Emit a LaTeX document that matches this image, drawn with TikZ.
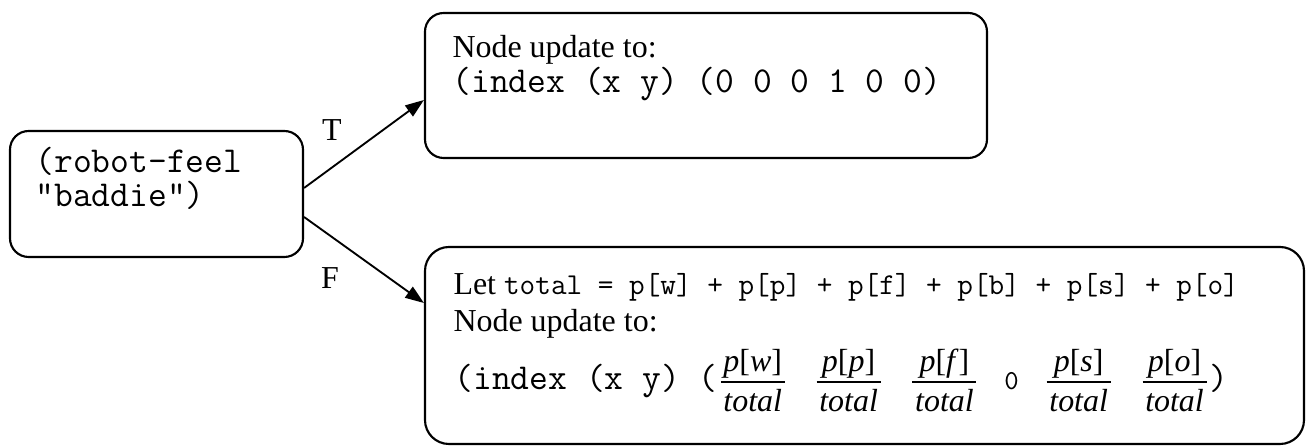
\documentclass[tikz,border=0pt]{standalone}
\usepackage{fontspec}
\setmainfont{Liberation Serif}
\usetikzlibrary{arrows.meta, positioning, calc, fit}

% typewriter pieces, sized to the width of the serif text
\newcommand{\cw}[1]{{\fontsize{13.7pt}{16pt}\selectfont\ttfamily #1}}
% one share of the total, set as a fraction in serif italics
\newcommand{\pfrac}[1]{$\displaystyle\frac{\raisebox{-2.5pt}{\textit{p}[\textit{#1}]}}{\mbox{\kern1pt\textit{total}\kern1pt}}$}

\begin{document}
\begin{tikzpicture}[
    x=0.0132cm, y=-0.0132cm,
    box/.style={rectangle, rounded corners=7pt, draw, line width=0.8pt, inner sep=0pt},
    txt/.style={anchor=base west, inner sep=0pt, font=\fontsize{12pt}{14pt}\selectfont\rmfamily},
    code/.style={anchor=base west, inner sep=0pt, font=\fontsize{13.7pt}{16pt}\selectfont\ttfamily},
    lbl/.style={inner sep=0pt, font=\fontsize{12pt}{14pt}\selectfont\rmfamily},
    arr/.style={-{Triangle[length=7pt, width=5pt]}, line width=0.7pt}
]
\useasboundingbox (0,0) rectangle (1306,446);

% the test and its two outcomes
\node[box, fit={(10,131) (303,257)}] (feel) {};
\node[box, fit={(425,13) (987,158)}] (setb) {};
\node[box, rounded corners=9pt, fit={(425,247) (1304,444)}] (spread) {};

% box contents
\node[code] (feel1) at (35,173) {(robot-feel};
\node[code] (feel2) at (35,207) {“baddie”)};
\node[txt] (setb1) at (452,58) {Node update to:};
\node[code] (setb2) at (452,93) {(index (x y) (0 0 0 1 0 0)};
\node[txt] (spread1) at (453,295) {Let \texttt{\fontsize{11.4pt}{13pt}\selectfont total = p[w] + p[p] + p[f] + p[b] + p[s] + p[o]}};
\node[txt] (spread2) at (453,332) {Node update to:};
\node[txt] (spread3) at (454,390) {\cw{(index (x y) (}\pfrac{w}\hspace{9.6pt}\pfrac{p}\hspace{9.6pt}\pfrac{f}\hspace{9.3pt}{\fontsize{10.3pt}{12pt}\selectfont\ttfamily 0}\hspace{9.3pt}\pfrac{s}\hspace{9.6pt}\pfrac{o}\cw{)}};

% branches
\draw[arr] ($(feel.east)+(0,-6)$) -- ($(setb.west)+(0,14.5)$);
\draw[arr] ($(feel.east)+(0,23)$) -- ($(spread.west)+(0,-42.5)$);
\node[lbl] (tlab) at (332,130) {T};
\node[lbl] (flab) at (330,278) {F};
\end{tikzpicture}
\end{document}
